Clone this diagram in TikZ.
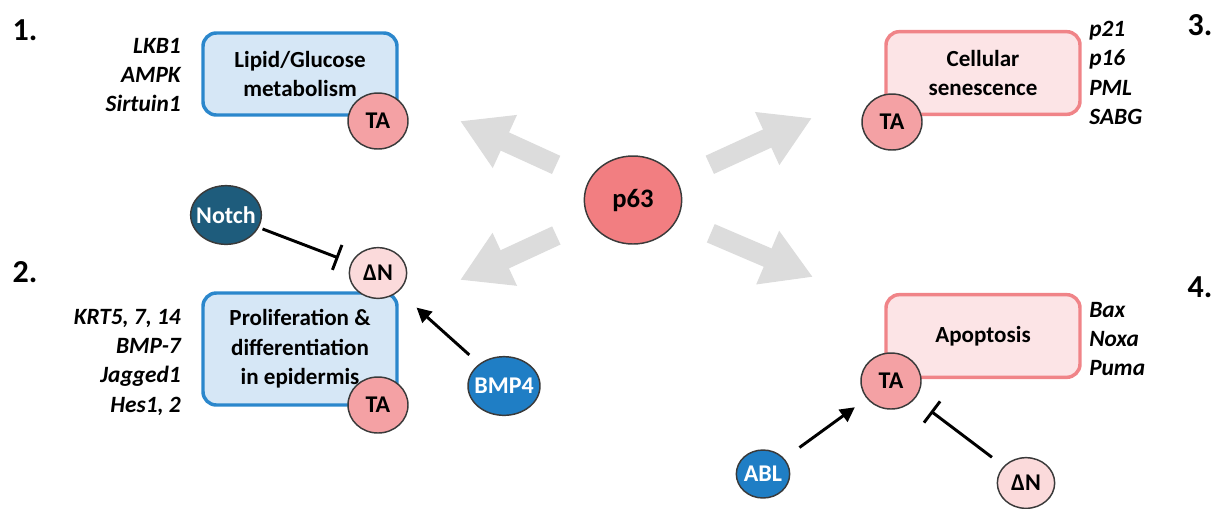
\documentclass[tikz,border=0pt]{standalone}
\usepackage{fontspec}
\setmainfont{Carlito}
\usetikzlibrary{arrows.meta,shapes.geometric}
\definecolor{blueline}{HTML}{2B87CC}
\definecolor{bluefill}{HTML}{D6E7F6}
\definecolor{pinkline}{HTML}{F08488}
\definecolor{pinkfill}{HTML}{FCE4E6}
\definecolor{tafill}{HTML}{F4A1A4}
\definecolor{pfill}{HTML}{F27E81}
\definecolor{dnfill}{HTML}{FBDADB}
\definecolor{notchfill}{HTML}{1E5C7C}
\definecolor{bmpfill}{HTML}{1F7EC5}
\definecolor{blobline}{HTML}{3A3A3A}
\definecolor{arrowgray}{HTML}{DCDCDC}
\tikzset{
  procbox/.style={rectangle, rounded corners=10pt, line width=2.6pt, align=center,
    inner sep=0pt, minimum width=145.5pt, font=\fontsize{17.3}{22}\selectfont\bfseries},
  bluebox/.style={procbox, draw=blueline, fill=bluefill},
  pinkbox/.style={procbox, draw=pinkline, fill=pinkfill},
  blob/.style={ellipse, draw=blobline, line width=1.1pt, inner sep=-6pt,
    font=\fontsize{18}{20}\selectfont\bfseries},
  tablob/.style={blob, fill=tafill, minimum width=45pt, minimum height=42pt},
  dnblob/.style={blob, fill=dnfill, minimum width=43pt, minimum height=38pt},
  sigblob/.style={blob, text=white},
  genes/.style={inner sep=0pt, font=\fontsize{17.5}{22}\selectfont\bfseries\itshape},
  num/.style={inner sep=0pt, font=\fontsize{24}{26}\selectfont\bfseries},
  fatarrow/.style={draw=arrowgray, line width=15pt, shorten <=27pt,
    -{Triangle[length=37pt,width=41pt]}},
  act/.style={line width=2.2pt, -{Triangle[length=11pt,width=11pt]}},
  inhib/.style={line width=2.2pt, -{Bar[width=20pt]}},
}
\begin{document}
\begin{tikzpicture}[x=0.75pt,y=-0.75pt]
\useasboundingbox (0,0) rectangle (1220,508);
% process boxes
\node[bluebox, minimum height=61.5pt] (lipid) at (300,74) {Lipid/Glucose\\metabolism};
\node[bluebox, minimum height=84pt] (prolif) at (300,349) {Proliferation \&\\differentiation\\in epidermis};
\node[pinkbox, minimum height=62pt] (senes) at (983,73) {Cellular\\senescence};
\node[pinkbox, minimum height=62pt] (apop) at (983,336) {Apoptosis};
% isoforms
\node[tablob] (ta1) at (378,121) {TA};
\node[tablob] (ta2) at (378,405) {TA};
\node[tablob] (ta3) at (892,122) {TA};
\node[tablob] (ta4) at (891,381) {TA};
\node[dnblob] (dn1) at (378,273) {ΔN};
\node[dnblob] (dn4) at (1026,483) {ΔN};
\node[blob, fill=pfill, minimum width=73pt, minimum height=66pt,
  font=\fontsize{20}{22}\selectfont\bfseries] (p63) at (633,200) {p63};
% regulators
\node[sigblob, fill=notchfill, minimum width=53pt, minimum height=44pt] (notch) at (226,215) {Notch};
\node[sigblob, fill=bmpfill, minimum width=54pt, minimum height=44pt] (bmp) at (504,386) {BMP4};
\node[sigblob, fill=bmpfill, minimum width=40pt, minimum height=36pt] (abl) at (763,474) {ABL};
% gene lists
\node[genes, align=right, anchor=east] (g1) at (181,75) {LKB1\\AMPK\\Sirtuin1};
\node[genes, align=right, anchor=east] (g2) at (181,362) {KRT5, 7, 14\\BMP-7\\Jagged1\\Hes1, 2};
\node[genes, align=left, anchor=west] (g3) at (1089,73) {p21\\p16\\PML\\SABG};
\node[genes, align=left, anchor=west] (g4) at (1089,339) {Bax\\Noxa\\Puma};
% numbers
\node[num] (n1) at (25,30) {1.};
\node[num] (n2) at (25,272) {2.};
\node[num] (n3) at (1200,25) {3.};
\node[num] (n4) at (1200,287) {4.};
% p63 outputs
\coordinate (tl) at (460,121);
\coordinate (tr) at (812,118);
\coordinate (bl) at (460,280);
\coordinate (br) at (813,277);
\foreach \t in {tl,tr,bl,br}
  \draw[fatarrow] (p63) -- (\t);
% regulation
\draw[inhib, shorten <=3pt, shorten >=10pt] (notch) -- (dn1);
\draw[act, shorten <=10pt, shorten >=18pt] (bmp) -- (dn1);
\draw[act, shorten <=14pt, shorten >=11pt] (abl) -- (ta4);
\draw[inhib, shorten <=11pt, shorten >=15pt] (dn4) -- (ta4);
\end{tikzpicture}
\end{document}
